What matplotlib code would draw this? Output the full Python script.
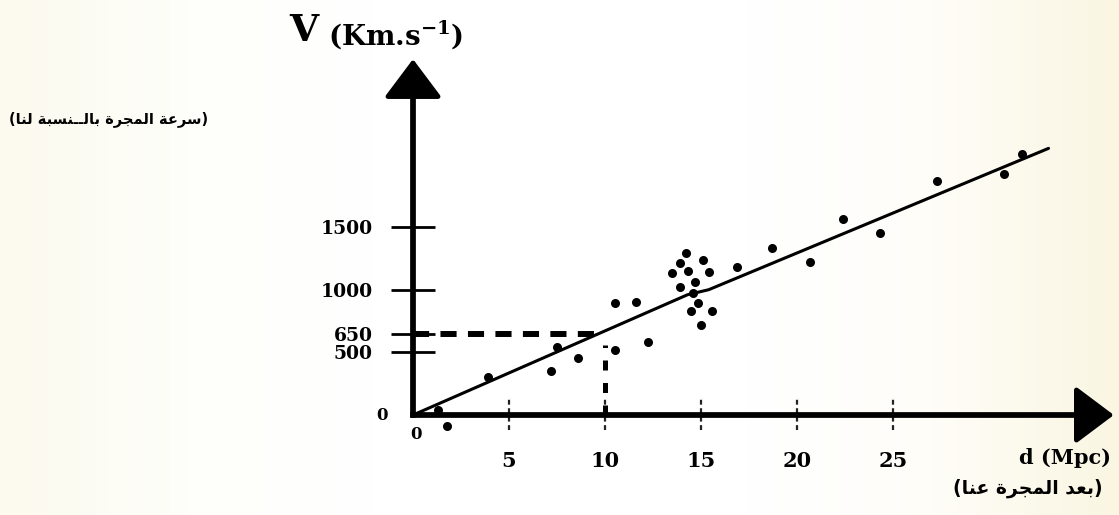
import matplotlib
matplotlib.use("Agg")
import matplotlib.pyplot as plt
import numpy as np
from matplotlib.colors import LinearSegmentedColormap

plt.rcParams['mathtext.fontset'] = 'dejavuserif'

# ---------------- data ----------------
distance_mpc = [1.3, 1.75, 3.9, 7.2, 7.5, 8.6, 10.5, 10.5, 11.6, 12.25,
                13.5, 13.9, 13.9, 14.2, 14.3, 14.5, 14.6, 14.7, 14.85, 15.0,
                15.1, 15.4, 15.55, 16.9, 18.7, 20.7, 22.4, 24.3, 27.3, 30.8, 31.7]
velocity_kms = [40, -90, 306, 351, 545, 452, 520, 891, 904, 585,
                1135, 1210, 1020, 1290, 1150, 830, 970, 1060, 890, 720,
                1240, 1145, 830, 1184, 1330, 1224, 1561, 1455, 1870, 1923, 2083]

fit_d = [0, 14.3, 15.4, 33.1]
fit_v = [0, 960, 1000, 2128]

ref_d = 10
ref_v = 650
ref_v_drop_top = 560

x_ticks = [5, 10, 15, 20, 25]
y_ticks = [500, 650, 1000, 1500]

y_title_ar = "(سرعة المجرة بالــنسبة لنا)"
x_title_ar = "(بعد المجرة عنا)"

# ---------------- Arabic shaping (presentation forms) ----------------
FORMS = {  # iso, fin, ini, med
    'ا': ('\uFE8D', '\uFE8E', None, None),
    'ب': ('\uFE8F', '\uFE90', '\uFE91', '\uFE92'),
    'ة': ('\uFE93', '\uFE94', None, None),
    'ج': ('\uFE9D', '\uFE9E', '\uFE9F', '\uFEA0'),
    'د': ('\uFEA9', '\uFEAA', None, None),
    'ر': ('\uFEAD', '\uFEAE', None, None),
    'س': ('\uFEB1', '\uFEB2', '\uFEB3', '\uFEB4'),
    'ع': ('\uFEC9', '\uFECA', '\uFECB', '\uFECC'),
    'ل': ('\uFEDD', '\uFEDE', '\uFEDF', '\uFEE0'),
    'م': ('\uFEE1', '\uFEE2', '\uFEE3', '\uFEE4'),
    'ن': ('\uFEE5', '\uFEE6', '\uFEE7', '\uFEE8'),
    'ـ': ('\u0640', '\u0640', '\u0640', '\u0640'),
}


def shape_arabic(text):
    out = []
    n = len(text)
    for i, c in enumerate(text):
        if c not in FORMS:
            out.append(c)
            continue
        prev = text[i - 1] if i > 0 else ''
        nxt = text[i + 1] if i < n - 1 else ''
        jp = prev in FORMS and FORMS[prev][2] is not None
        jn = FORMS[c][2] is not None and nxt in FORMS
        iso, fin, ini, med = FORMS[c]
        if jp and jn:
            out.append(med)
        elif jp:
            out.append(fin)
        elif jn:
            out.append(ini)
        else:
            out.append(iso)
    vis = ''.join(reversed(out))
    swap = {'(': ')', ')': '('}
    return ''.join(swap.get(ch, ch) for ch in vis)


# ---------------- figure ----------------
fig = plt.figure(figsize=(11.19, 5.15), dpi=100)
fig.patch.set_facecolor('#fefefc')

# paper-tone background (slightly cream at the edges)
bg = fig.add_axes([0, 0, 1, 1], zorder=-1)
bg.axis('off')
paper = LinearSegmentedColormap.from_list(
    'paper', ['#fcfaee', '#fefefa', '#ffffff', '#ffffff', '#ffffff',
              '#fefdf8', '#faf6e2'])
bg.imshow(np.linspace(0, 1, 256)[None, :], aspect='auto', cmap=paper,
          extent=[0, 1, 0, 1])

ax = fig.add_axes([0, 0, 1, 1])
ax.set_facecolor('none')
ax.set_xlim(-21.51, 36.77)
ax.set_ylim(-798, 3312)

x_tip = 36.5
y_tip = 2840

for s in ['top', 'right']:
    ax.spines[s].set_visible(False)
for s in ['left', 'bottom']:
    ax.spines[s].set_position(('data', 0))
    ax.spines[s].set_linewidth(4)
ax.spines['bottom'].set_bounds(0, x_tip - 1)
ax.spines['left'].set_bounds(0, y_tip - 100)

# arrows
ap = dict(arrowstyle='-|>,head_length=1.2,head_width=0.9', lw=3.5,
          color='black', shrinkA=0, shrinkB=0, mutation_scale=20)
ax.annotate('', xy=(x_tip, 0), xytext=(0, 0), arrowprops=ap)
ax.annotate('', xy=(0, y_tip), xytext=(0, 0), arrowprops=ap)

# ticks
serif_b = dict(family='DejaVu Serif', weight='bold')
ax.set_yticks(y_ticks)
ax.set_yticklabels([str(v) for v in y_ticks], fontsize=13.5, **serif_b)
ax.tick_params(axis='y', direction='inout', length=32, width=2, pad=13)
ax.set_xticks(x_ticks)
ax.set_xticklabels([str(v) for v in x_ticks], fontsize=15, **serif_b)
ax.tick_params(axis='x', length=0, pad=26)
ax.vlines(x_ticks, -120, 130, colors='#222222', lw=1.6, linestyles=(0, (2.2, 1.6)))

ax.annotate('0', (0, 0), xytext=(-22, 0), textcoords='offset points',
            ha='center', va='center', fontsize=12, **serif_b)
ax.annotate('0', (0, 0), xytext=(2, -14), textcoords='offset points',
            ha='center', va='center', fontsize=12, **serif_b)

# reference dashed lines
ax.plot([0, ref_d], [ref_v, ref_v], color='black', lw=4.3,
        linestyle=(0, (2.7, 1.9)), dash_capstyle='butt')
ax.plot([ref_d, ref_d], [0, ref_v_drop_top], color='black', lw=3.6,
        linestyle=(0, (2.0, 2.5)), dash_capstyle='butt')

# fit line
ax.plot(fit_d, fit_v, color='black', lw=2.2, solid_capstyle='round')

# data points
ax.plot(distance_mpc, velocity_kms, 'o', color='black', ms=6.5, mew=0)

# titles
fig.text(0.2717, 0.940, 'V', ha='center', va='center', fontsize=27, **serif_b)
fig.text(0.2931, 0.932, r'(Km.s$^{\mathbf{-1}}$)', ha='left', va='center',
         fontsize=20, **serif_b)
fig.text(0.008, 0.768, shape_arabic(y_title_ar), ha='left', va='center',
         fontsize=10.5, family='DejaVu Sans', weight='bold')
ax.annotate('d (Mpc)', (x_tip, 0), xytext=(-2, -31), textcoords='offset points',
            ha='right', va='center', fontsize=15, **serif_b)
ax.annotate(shape_arabic(x_title_ar), (x_tip, 0), xytext=(-8, -53),
            textcoords='offset points', ha='right', va='center',
            fontsize=13.5, family='DejaVu Sans', weight='bold')

fig.savefig('out.png', dpi=100, facecolor=fig.get_facecolor())
